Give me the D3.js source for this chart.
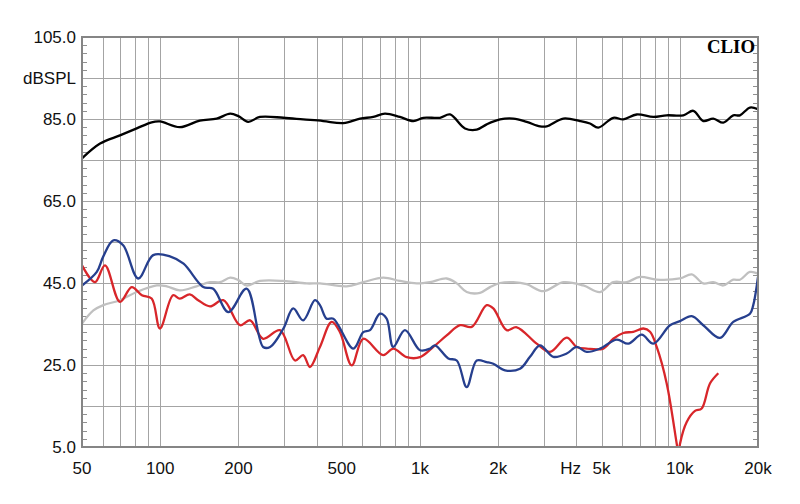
<!DOCTYPE html>
<html>
<head>
<meta charset="utf-8">
<script src="https://cdn.jsdelivr.net/npm/d3@7"></script>
<style>
  html, body { margin: 0; padding: 0; background: #fff; }
  svg { display: block; }
</style>
</head>
<body>
<svg id="chart" width="800" height="504"></svg>
<script>
// ---------- data ----------
const blackFreq = [50,58.7,70,81.2,92.7,99.8,119,142,165,186,200,218,242,298,355,424,507,588,661,733,837,943,1030,1194,1305,1490,1653,1806,2032,2286,2575,2897,3074,3561,4130,4512,4854,5546,6061,6825,7908,8904,10317,11274,12316,13455,14701,16061,17043,18622,20000];
const blackDb   = [75.4,79.0,81.0,82.7,84.2,84.4,83.0,84.6,85.1,86.3,85.7,84.3,85.5,85.3,84.9,84.5,84.0,85.1,85.5,86.3,85.5,84.5,85.3,85.3,86.1,82.7,82.4,83.7,84.9,85.1,84.3,83.2,83.2,85.1,84.5,83.9,82.9,85.3,84.9,86.1,85.5,85.9,85.9,87.0,84.5,85.1,84.1,85.9,85.9,87.8,87.4];

const grayFreq = [50,55.3,60.4,70,81.2,97,106,119,138,155.5,170,186,200,215,242,298,366,412,522,605,722,837,971,1093,1267,1385,1513,1702,1860,2032,2286,2575,2983,3561,4252,4929,5546,6246,7028,8150,10020,11114,12316,13455,14701,16061,17043,18622,20000];
const grayDb   = [35.1,38.3,39.6,40.8,42.8,44.4,44.2,43.2,44.2,45.2,45.2,46.3,45.7,44.4,45.5,45.5,44.9,44.9,44.2,45.2,46.3,45.5,44.9,45.2,46.1,44.9,42.8,42.6,44.0,45.0,45.2,44.7,43.0,45.2,44.4,42.8,45.2,45.2,46.5,45.8,46.1,47.1,44.9,45.2,44.4,45.8,45.8,47.7,47.3];

const blueFreq = [50,57,60.4,66,72,82.3,94,109,123,146.5,160,183,215,249,265,298,325,355,394,412,437,464,554,605,642,701,744,789,875,1000,1093,1142,1285,1385,1513,1653,1806,1915,2124,2427,2651,2897,3259,3670,4010,4382,4929,5716,6336,7134,7908,9168,10020,11114,12316,14278,16061,18622,19177,20000];
const blueDb   = [44.4,47.7,51.5,55.4,54.2,46.1,51.8,51.5,49.7,44.0,43.6,37.9,43.6,29.4,29.4,33.9,38.8,35.9,40.8,39.6,36.3,36.3,29.0,33.0,33.5,37.5,36.3,29.4,33.5,28.6,29.0,29.8,26.6,26.1,19.6,26.1,25.7,25.3,23.7,24.1,27.0,29.8,27.0,27.8,29.4,28.2,29.0,31.2,30.2,32.4,30.2,34.7,35.7,36.9,34.7,31.6,35.5,37.5,39.6,46.5];

const redFreq = [50,56.1,61.3,70,77.7,85,92.7,99.8,112,119,130,140,155.5,175,203,222,249,289,330,355,377,412,457,492,546,605,722,789,889,1000,1125,1267,1426,1581,1806,1915,2157,2357,2813,3165,3670,4010,4382,5075,5546,6061,6622,7237,7681,8150,8904,9731,9900,10020,10633,11444,12141,13066,14066];
const redDb   = [49.3,45.2,49.3,40.4,44.0,42.0,41.2,33.9,42.0,41.2,42.2,40.8,39.3,40.8,34.7,35.9,31.4,33.5,26.1,27.4,24.5,29.4,35.5,33.0,24.9,31.4,27.4,29.0,26.9,26.9,29.4,32.2,34.7,34.3,39.6,38.8,33.5,34.2,30.2,28.2,31.7,29.4,29.0,29.0,31.4,32.8,33.1,33.9,33.1,29.4,20.5,5.8,3.0,5.8,11.1,13.8,14.4,20.5,23.0];

const yTickValues = [105, 85, 65, 45, 25, 5];
const yGridValues = [105, 95, 85, 75, 65, 55, 45, 35, 25, 15, 5];
const xGridValues = [50,60,70,80,90,100,200,300,400,500,600,700,800,900,1000,2000,3000,4000,5000,6000,7000,8000,9000,10000,20000];
const xLabelValues = [50,100,200,500,1000,2000,3800,5000,10000,20000];
const xLabelTexts  = ["50","100","200","500","1k","2k","Hz","5k","10k","20k"];

// ---------- layout ----------
const pL = 82, pR = 758, pT = 37, pB = 447;
const svg = d3.select("#chart");
const x = d3.scaleLog().domain([50, 20000]).range([pL, pR]);
const y = d3.scaleLinear().domain([5, 105]).range([pB, pT]);

const font = "'Liberation Sans', Arial, sans-serif";

// grid
const grid = svg.append("g").attr("stroke", "#a4a4a4").attr("stroke-width", 1).attr("shape-rendering", "crispEdges");
grid.selectAll("line.v").data(xGridValues).join("line")
  .attr("x1", d => Math.round(x(d)) + 0.5).attr("x2", d => Math.round(x(d)) + 0.5)
  .attr("y1", pT).attr("y2", pB);
grid.selectAll("line.h").data(yGridValues).join("line")
  .attr("y1", d => Math.round(y(d)) + 0.5).attr("y2", d => Math.round(y(d)) + 0.5)
  .attr("x1", pL).attr("x2", pR);

// minor ticks every 2 dB on left & right edges
const minor = d3.range(5, 105.01, 2).filter(v => (v - 5) % 10 !== 0);
const tk = svg.append("g").attr("stroke", "#909090").attr("stroke-width", 1).attr("shape-rendering", "crispEdges");
tk.selectAll("line.l").data(minor).join("line")
  .attr("x1", pL).attr("x2", pL + 5)
  .attr("y1", d => Math.round(y(d)) + 0.5).attr("y2", d => Math.round(y(d)) + 0.5);
tk.selectAll("line.r").data(minor).join("line")
  .attr("x1", pR - 5).attr("x2", pR)
  .attr("y1", d => Math.round(y(d)) + 0.5).attr("y2", d => Math.round(y(d)) + 0.5);

// curves
svg.append("clipPath").attr("id", "clip").append("rect")
  .attr("x", pL).attr("y", pT).attr("width", pR - pL).attr("height", pB - pT);
const line = d3.line().x(d => x(d[0])).y(d => y(d[1])).curve(d3.curveCatmullRom.alpha(0.5));
const series = [
  { f: grayFreq, v: grayDb, color: "#c0c0c0" },
  { f: redFreq, v: redDb, color: "#d8262a" },
  { f: blueFreq, v: blueDb, color: "#263f8e" },
  { f: blackFreq, v: blackDb, color: "#000000" }
];
const cg = svg.append("g").attr("clip-path", "url(#clip)");
series.forEach(s => {
  cg.append("path")
    .datum(s.f.map((f, i) => [f, s.v[i]]))
    .attr("fill", "none").attr("stroke", s.color)
    .attr("stroke-width", 2.3).attr("stroke-linejoin", "round")
    .attr("d", line);
});

// frame
svg.append("rect").attr("x", pL).attr("y", pT).attr("width", pR - pL).attr("height", pB - pT)
  .attr("fill", "none").attr("stroke", "#858585").attr("stroke-width", 2);

// y labels
svg.append("g").selectAll("text").data(yTickValues).join("text")
  .attr("x", 76).attr("y", d => y(d)).attr("dy", "0.36em")
  .attr("text-anchor", "end").attr("font-family", font).attr("font-size", 17).attr("fill", "#111")
  .text(d => d.toFixed(1));
svg.append("text").attr("x", 76).attr("y", y(95)).attr("dy", "0.36em")
  .attr("text-anchor", "end").attr("font-family", font).attr("font-size", 17).attr("fill", "#111")
  .text("dBSPL");

// x labels
svg.append("g").selectAll("text").data(xLabelValues).join("text")
  .attr("x", d => x(d)).attr("y", 474)
  .attr("text-anchor", "middle").attr("font-family", font).attr("font-size", 17).attr("fill", "#111")
  .text((d, i) => xLabelTexts[i]);

// brand
svg.append("text").attr("x", 755).attr("y", 53).attr("text-anchor", "end")
  .attr("font-family", "'Liberation Serif', 'Times New Roman', serif").attr("font-weight", "bold")
  .attr("font-size", 19).attr("textLength", 48).attr("lengthAdjust", "spacingAndGlyphs")
  .attr("fill", "#000").text("CLIO");
</script>
</body>
</html>
